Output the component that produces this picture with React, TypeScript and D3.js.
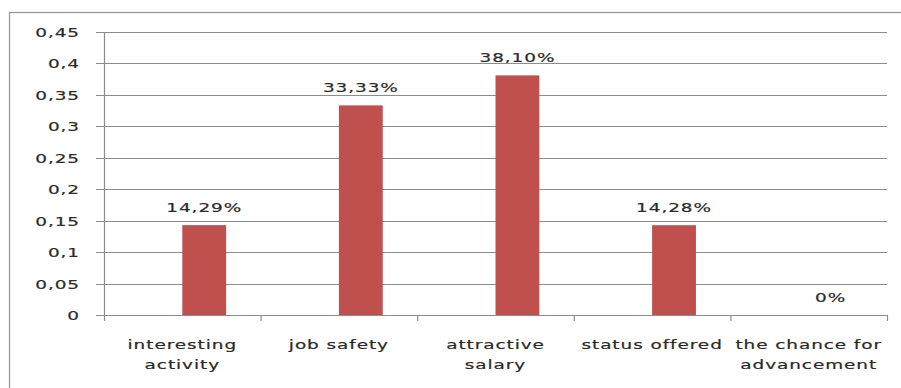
import React from "react";
import * as d3 from "d3";

const categories: string[][] = [
  ["interesting", "activity"],
  ["job safety"],
  ["attractive", "salary"],
  ["status offered"],
  ["the chance for", "advancement"],
];
const values: number[] = [0.1429, 0.3333, 0.381, 0.1428, 0];
const valueLabels: string[] = ["14,29%", "33,33%", "38,10%", "14,28%", "0%"];
const yTicks: number[] = [0, 0.05, 0.1, 0.15, 0.2, 0.25, 0.3, 0.35, 0.4, 0.45];

const W = 901;
const H = 388;
const left = 104;
const right = 887;
const top = 32;
const bottom = 315;
const SX = 1.42;
const FONT = "'DejaVu Sans', Verdana, sans-serif";
const GRID = "#8c8c8c";
const TEXT = "#2a2a2a";

function fmtTick(v: number): string {
  return d3.format(".2~f")(v).replace(".", ",");
}

function SText({ x, y, children, anchor }: { x: number; y: number; children: React.ReactNode; anchor: string }) {
  return (
    <g transform={`translate(${x},${y})`}>
      <text transform={`scale(${SX},1)`} textAnchor={anchor} fontFamily={FONT} fontSize={13} fill={TEXT} stroke={TEXT} strokeWidth={0.2} letterSpacing={0.65}>
        {children}
      </text>
    </g>
  );
}

export default function App() {
  const idx = categories.map((_, i) => String(i));
  const x = d3.scaleBand<string>().domain(idx).range([left, right]).padding(0);
  const y = d3.scaleLinear().domain([0, 0.45]).range([bottom, top]);
  const bw = x.bandwidth() * 0.28;

  return (
    <svg width={W} height={H} style={{ position: "absolute", left: 0, top: 0 }}>
      <rect x={0} y={0} width={W} height={H} fill="#fff" />
      <rect x={9.5} y={12.5} width={1200} height={1200} fill="none" stroke="#9a9a9a" strokeWidth={1.3} />
      {yTicks.map((t) => (
        <g key={t}>
          <line x1={left - 8} x2={right} y1={Math.round(y(t)) + 0.5} y2={Math.round(y(t)) + 0.5} stroke={GRID} strokeWidth={1.2} />
          <SText x={80} y={y(t) + 5} anchor="end">{fmtTick(t)}</SText>
        </g>
      ))}
      <line x1={left + 0.5} x2={left + 0.5} y1={top} y2={bottom} stroke={GRID} strokeWidth={1.2} />
      {idx.map((k) => (
        <line key={"t" + k} x1={(x(k) as number) + 0.5} x2={(x(k) as number) + 0.5} y1={bottom} y2={bottom + 6} stroke={GRID} strokeWidth={1.2} />
      ))}
      <line x1={right + 0.5} x2={right + 0.5} y1={bottom} y2={bottom + 6} stroke={GRID} strokeWidth={1.2} />
      {values.map((v, i) => {
        const cx = (x(String(i)) as number) + x.bandwidth() / 2;
        return (
          <g key={"b" + i}>
            {v > 0 && (
              <rect x={cx} y={y(v)} width={bw} height={bottom - y(v)} fill="#C0504D" />
            )}
            <SText x={cx + bw / 2} y={y(v) - 13} anchor="middle">{valueLabels[i]}</SText>
          </g>
        );
      })}
      {categories.map((lines, i) => {
        const cx = (x(String(i)) as number) + x.bandwidth() / 2;
        return (
          <g key={"c" + i}>
            {lines.map((ln, j) => (
              <SText key={j} x={cx} y={349 + j * 20} anchor="middle">{ln}</SText>
            ))}
          </g>
        );
      })}
    </svg>
  );
}
